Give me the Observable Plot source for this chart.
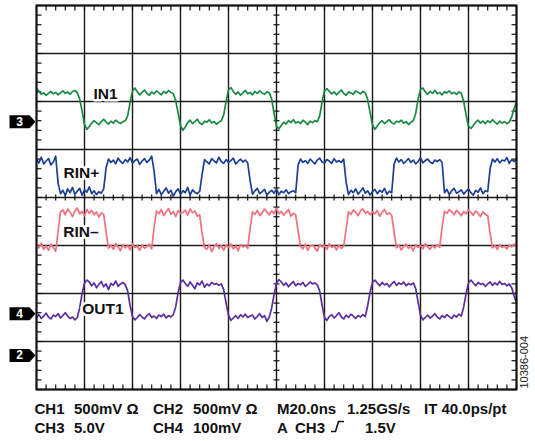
<!DOCTYPE html>
<html><head><meta charset="utf-8">
<script src="https://cdn.jsdelivr.net/npm/d3@7"></script>
<script src="https://cdn.jsdelivr.net/npm/@observablehq/plot@0.6"></script>
<style>
body{margin:0;background:#fff;}
#wrap{position:relative;width:535px;height:441px;font-family:"Liberation Sans",Arial,sans-serif;background:#fff;}
#wrap svg{display:block;}
.cap{position:absolute;font-weight:bold;font-size:15px;line-height:1;color:#111;white-space:pre;}
</style></head><body><div id="wrap"></div>
<script>
// ---- data (screen divisions, 1 ns per sample, 20 ns/div) ----
const sampleNs = 1;
const gridTimes = [0,20,40,60,80,100,120,140,160,180,200];
const gridDivs = [-4,-3,-2,-1,0,1,2,3,4];

const in1 = [
 2.27,2.22,2.15,2.18,2.13,2.17,2.21,2.16,2.19,2.14,2.18,2.22,2.17,2.20,2.15,2.21,2.23,2.18,
 2.05,1.80,1.52,1.42,1.48,
 1.55,1.60,1.56,1.52,1.58,1.63,1.57,1.53,1.59,1.55,1.61,1.57,1.54,1.58,1.60,
 1.70,1.98,2.22,2.28,2.20,
 2.14,2.19,2.24,2.17,2.13,2.20,2.16,2.22,2.18,2.14,2.21,2.17,2.23,2.19,2.16,
 2.02,1.76,1.50,1.40,1.47,
 1.56,1.61,1.54,1.58,1.63,1.55,1.52,1.59,1.57,1.62,1.55,1.58,1.53,1.57,1.60,
 1.72,2.00,2.24,2.29,2.21,
 2.15,2.20,2.13,2.18,2.23,2.16,2.19,2.14,2.21,2.17,2.22,2.18,2.15,2.20,2.18,
 2.05,1.75,1.48,1.43,1.50,
 1.57,1.53,1.60,1.56,1.62,1.55,1.58,1.54,1.61,1.57,1.52,1.59,1.56,1.60,1.58,
 1.70,1.99,2.22,2.27,2.21,
 2.16,2.20,2.14,2.19,2.24,2.17,2.13,2.20,2.18,2.15,2.22,2.19,2.16,2.21,2.18,
 2.04,1.77,1.51,1.42,1.49,
 1.56,1.60,1.54,1.58,1.62,1.56,1.53,1.59,1.57,1.61,1.55,1.58,1.52,1.57,1.60,
 1.75,2.05,2.25,2.28,2.20,
 2.15,2.21,2.17,2.23,2.16,2.19,2.14,2.20,2.18,2.22,2.16,2.19,2.15,2.20,2.17,
 2.00,1.72,1.48,1.44,1.50,
 1.57,1.61,1.55,1.59,1.54,1.60,1.56,1.62,1.57,1.53,1.59,1.55,1.58,1.54,1.57,
 1.68,1.85,2.00
];

const rinPlus = [
 0.80,0.72,0.84,0.70,0.76,0.81,0.68,0.74,0.86,
 0.30,0.08,
 0.15,0.04,0.18,0.10,0.21,0.07,0.13,0.19,0.05,0.16,0.11,0.22,0.08,0.14,0.06,0.12,0.09,
 0.18,0.62,0.80,
 0.73,0.78,0.70,0.82,0.75,0.71,0.79,0.74,0.83,0.72,0.77,0.80,0.69,0.76,0.81,0.73,0.78,0.86,
 0.55,0.08,
 0.17,0.06,0.13,0.20,0.09,0.15,0.03,0.12,0.18,0.07,0.14,0.10,0.21,0.05,0.16,0.11,0.08,0.13,
 0.48,0.79,
 0.74,0.70,0.81,0.76,0.72,0.84,0.75,0.71,0.79,0.73,0.77,0.82,0.70,0.75,0.80,0.74,0.78,0.72,
 0.35,0.07,
 0.14,0.19,0.08,0.12,0.17,0.05,0.11,0.15,0.09,0.18,0.06,0.13,0.10,0.16,0.08,0.12,0.14,0.10,
 0.68,0.80,
 0.73,0.77,0.71,0.80,0.75,0.70,0.78,0.82,0.74,0.72,0.79,0.76,0.71,0.81,0.74,0.77,0.73,0.80,
 0.32,0.06,
 0.15,0.10,0.18,0.07,0.13,0.20,0.09,0.14,0.05,0.12,0.17,0.08,0.15,0.11,0.19,0.07,0.13,0.10,
 0.70,0.82,
 0.74,0.79,0.71,0.76,0.81,0.73,0.78,0.70,0.75,0.83,0.72,0.77,0.80,0.74,0.71,0.78,0.75,0.79,0.73,
 0.10,
 0.17,0.06,0.14,0.19,0.09,0.12,0.16,0.07,0.13,0.18,0.10,0.05,0.15,0.11,0.20,0.08,0.14,0.12,
 0.60,0.80,
 0.74,0.81,0.72,0.78,0.76,0.83,0.71,0.79,0.75,0.80
];

const rinMinus = [
 -0.98,-1.05,-0.95,-1.08,-1.01,-1.10,-0.97,-1.04,-1.12,
 -0.70,-0.30,
 -0.26,-0.36,-0.24,-0.31,-0.40,-0.28,-0.22,-0.34,-0.29,-0.38,-0.25,-0.33,-0.27,-0.36,-0.30,-0.41,-0.32,-0.35,
 -0.72,-1.06,
 -0.99,-1.08,-0.96,-1.03,-1.11,-0.98,-1.05,-1.00,-1.09,-0.97,-1.04,-1.01,-1.10,-0.99,-1.06,-1.02,-0.97,-1.07,
 -0.62,-0.28,
 -0.34,-0.25,-0.38,-0.30,-0.23,-0.35,-0.29,-0.40,-0.27,-0.33,-0.31,-0.26,-0.37,-0.24,-0.32,-0.28,-0.39,-0.36,
 -0.75,-1.04,
 -1.08,-0.98,-1.13,-1.02,-0.96,-1.06,-1.00,-1.10,-0.99,-1.04,-0.97,-1.07,-1.01,-1.11,-0.98,-1.03,-1.00,-1.06,
 -0.65,-0.30,
 -0.35,-0.27,-0.38,-0.32,-0.24,-0.30,-0.36,-0.28,-0.33,-0.22,-0.34,-0.29,-0.37,-0.31,-0.25,-0.39,-0.33,-0.36,
 -0.70,-1.02,
 -1.07,-0.97,-1.10,-1.01,-0.99,-1.05,-1.12,-0.98,-1.03,-1.00,-1.08,-0.96,-1.04,-1.01,-1.09,-0.99,-1.06,-1.02,
 -0.66,-0.30,
 -0.35,-0.26,-0.31,-0.38,-0.28,-0.24,-0.33,-0.29,-0.36,-0.30,-0.34,-0.27,-0.39,-0.31,-0.25,-0.35,-0.32,-0.37,
 -0.72,-1.05,
 -0.99,-1.09,-1.02,-0.97,-1.06,-1.01,-1.11,-0.98,-1.04,-1.00,-1.07,-0.96,-1.03,-1.08,-1.00,-1.05,-0.98,-1.04,
 -0.62,-0.29,
 -0.33,-0.25,-0.30,-0.36,-0.27,-0.32,-0.38,-0.29,-0.34,-0.26,-0.31,-0.37,-0.28,-0.33,-0.40,-0.30,-0.35,-0.38,
 -0.74,-1.05,
 -1.00,-1.08,-0.98,-1.04,-1.01,-1.07,-0.99,-1.03,-0.97,-1.02
];

const out1 = [
 -2.50,-2.44,-2.52,-2.47,-2.41,-2.49,-2.53,-2.45,-2.48,-2.42,-2.51,-2.46,-2.40,-2.47,-2.52,-2.49,-2.55,-2.50,
 -2.30,-2.00,-1.78,-1.72,-1.76,
 -1.84,-1.78,-1.88,-1.81,-1.75,-1.86,-1.80,-1.92,-1.79,-1.83,-1.74,-1.85,-1.80,-1.77,-1.82,
 -1.95,-2.25,-2.48,-2.55,-2.50,
 -2.44,-2.49,-2.53,-2.46,-2.42,-2.50,-2.47,-2.52,-2.45,-2.48,-2.43,-2.51,-2.46,-2.49,-2.44,
 -2.28,-1.98,-1.77,-1.72,-1.79,
 -1.85,-1.76,-1.83,-1.90,-1.78,-1.82,-1.74,-1.87,-1.80,-1.84,-1.77,-1.81,-1.79,-1.83,-1.80,
 -1.92,-2.20,-2.45,-2.56,-2.51,
 -2.46,-2.52,-2.44,-2.49,-2.43,-2.50,-2.47,-2.45,-2.53,-2.48,-2.42,-2.50,-2.46,-2.58,-2.49,
 -2.30,-2.02,-1.79,-1.71,-1.76,
 -1.83,-1.78,-1.86,-1.80,-1.75,-1.84,-1.79,-1.82,-1.77,-1.85,-1.81,-1.76,-1.80,-1.78,-1.82,
 -1.95,-2.24,-2.50,-2.56,-2.48,
 -2.44,-2.51,-2.46,-2.40,-2.49,-2.53,-2.45,-2.50,-2.43,-2.47,-2.52,-2.46,-2.49,-2.44,-2.48,
 -2.25,-1.97,-1.77,-1.72,-1.78,
 -1.84,-1.77,-1.82,-1.79,-1.86,-1.80,-1.75,-1.83,-1.78,-1.81,-1.76,-1.84,-1.79,-1.82,-1.78,
 -1.90,-2.18,-2.45,-2.55,-2.50,
 -2.45,-2.51,-2.47,-2.42,-2.49,-2.53,-2.46,-2.50,-2.44,-2.48,-2.52,-2.45,-2.49,-2.43,-2.47,
 -2.28,-2.00,-1.78,-1.72,-1.78,
 -1.84,-1.77,-1.81,-1.79,-1.85,-1.80,-1.76,-1.83,-1.78,-1.82,-1.75,-1.81,-1.79,-1.84,-1.80,
 -1.88,-2.05,-2.20
];

const traceNames = ["IN1", "RIN+", "RIN–", "OUT1"];
const labelTimes = [28.8, 18.7, 18.5, 27.7];
const labelDivs = [2.15, 0.50, -0.71, -2.32];

const markerLabels = ["3", "4", "2"];
const markerDivs = [1.58, -2.42, -3.29];

const captionRow1 = ["CH1", "500mV Ω", "CH2", "500mV Ω", "M20.0ns", "1.25GS/s", "IT 40.0ps/pt"];
const captionRow2 = ["CH3", "5.0V", "CH4", "100mV", "A", "CH3", "1.5V"];
const figureId = "10386-004";

// ---- layout / styles ----
const colors = ["#178a40", "#1d3f92", "#f0717f", "#5b2e9e"];
const series = [in1, rinPlus, rinMinus, out1];
const toPts = vals => vals.map((v, i) => ({t: i * sampleNs, v}));

const minorT = d3.range(0, 201, 4);
const minorD = d3.range(-40, 41, 2).map(k => k / 10);

const seg = (x1, y1, x2, y2) => ({draw(ctx) { ctx.moveTo(x1, y1); ctx.lineTo(x2, y2); }});
const tickDown = seg(0, 0, 0, 5), tickUp = seg(0, 0, 0, -5);
const tickRight = seg(0, 0, 5, 0), tickLeft = seg(0, 0, -5, 0);
const tickH = seg(-3, 0, 3, 0), tickV = seg(0, -3, 0, 3);
const pentagon = {draw(ctx) {
  ctx.moveTo(-27, -6.5); ctx.lineTo(-7, -6.5); ctx.lineTo(-1, 0);
  ctx.lineTo(-7, 6.5); ctx.lineTo(-27, 6.5); ctx.closePath();
}};
const tickStyle = {fill: "none", stroke: "#111", strokeWidth: 1.2};

const marks = [
  Plot.ruleX(gridTimes, {stroke: "#1a1a1a", strokeWidth: 1.4}),
  Plot.ruleY(gridDivs, {stroke: "#1a1a1a", strokeWidth: 1.4}),
  Plot.dot(minorT, {x: d => d, y: () => 4, symbol: tickDown, ...tickStyle}),
  Plot.dot(minorT, {x: d => d, y: () => -4, symbol: tickUp, ...tickStyle}),
  Plot.dot(minorT, {x: d => d, y: () => 0, symbol: tickV, ...tickStyle}),
  Plot.dot(minorD, {x: () => 0, y: d => d, symbol: tickRight, ...tickStyle}),
  Plot.dot(minorD, {x: () => 200, y: d => d, symbol: tickLeft, ...tickStyle}),
  Plot.dot(minorD, {x: () => 100, y: d => d, symbol: tickH, ...tickStyle}),
  ...series.map((s, k) => Plot.line(toPts(s), {x: "t", y: "v", stroke: colors[k], strokeWidth: 1.7, strokeLinejoin: "round"})),
  Plot.text(traceNames, {x: (d, i) => labelTimes[i], y: (d, i) => labelDivs[i], text: d => d,
    fill: "#111", stroke: "white", strokeWidth: 5, paintOrder: "stroke",
    fontFamily: "Liberation Sans, Arial, sans-serif", fontWeight: "bold", fontSize: 15.5}),
  Plot.frame({stroke: "#111", strokeWidth: 2}),
  Plot.dot(markerLabels, {x: () => 0, y: (d, i) => markerDivs[i], symbol: pentagon, fill: "#000", stroke: "none"}),
  Plot.text(markerLabels, {x: () => 0, y: (d, i) => markerDivs[i], text: d => d, dx: -17, fill: "white",
    fontFamily: "Liberation Sans, Arial, sans-serif", fontWeight: "bold", fontSize: 12}),
  Plot.text([figureId], {frameAnchor: "bottom-right", text: d => d, dx: 11, dy: -1, rotate: -90, textAnchor: "start",
    fill: "#222", fontFamily: "Liberation Sans, Arial, sans-serif", fontSize: 11})
];

const chart = Plot.plot({
  width: 535, height: 395,
  marginLeft: 36, marginRight: 19, marginTop: 5, marginBottom: 6,
  x: {domain: [0, 200], axis: null},
  y: {domain: [-4, 4], axis: null},
  style: {background: "white", overflow: "visible"},
  marks
});
const wrap = document.getElementById("wrap");
wrap.appendChild(chart);

const row1X = [34.5, 74, 153, 193, 277, 347, 424];
const row2X = [34.5, 74, 153, 193, 277, 295, 365];
function addCap(text, x, top) {
  const s = document.createElement("div");
  s.className = "cap"; s.textContent = text;
  s.style.left = x + "px"; s.style.top = top + "px";
  wrap.appendChild(s);
}
captionRow1.forEach((t, i) => addCap(t, row1X[i], 400.7));
captionRow2.forEach((t, i) => addCap(t, row2X[i], 419.7));
// trigger slope glyph
const ns = "http://www.w3.org/2000/svg";
const g = document.createElementNS(ns, "svg");
g.setAttribute("width", 14); g.setAttribute("height", 14);
g.style.position = "absolute"; g.style.left = "331px"; g.style.top = "420px";
const p = document.createElementNS(ns, "path");
p.setAttribute("d", "M0,11.5 H4.5 L7.5,1.5 H13");
p.setAttribute("fill", "none"); p.setAttribute("stroke", "#111"); p.setAttribute("stroke-width", "1.6");
g.appendChild(p); wrap.appendChild(g);
</script>
</body></html>
